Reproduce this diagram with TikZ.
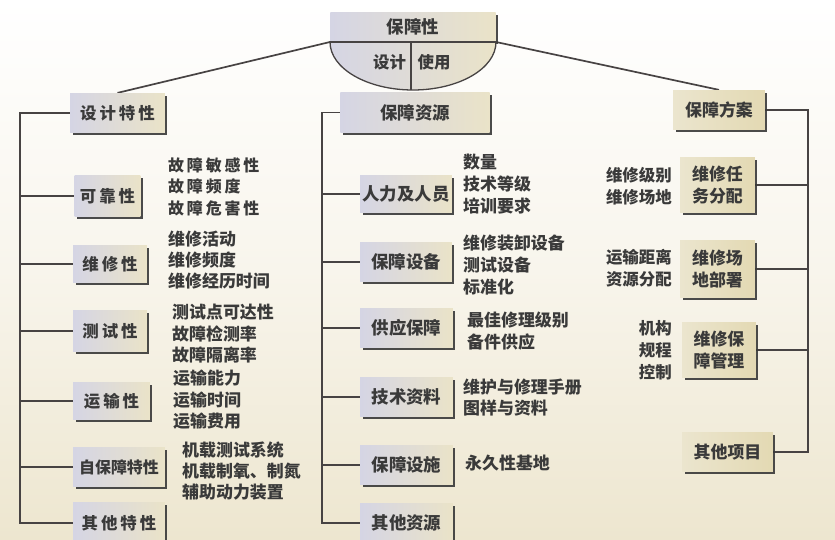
\documentclass[tikz,border=0pt]{standalone}
\usepackage{fontspec}
\newfontfamily\cjk{Noto Sans CJK SC}
\newfontfamily\cjkw{Noto Sans CJK SC}[LetterSpace=18]
\usetikzlibrary{shadows}
\definecolor{bgB}{HTML}{EDE6CF}
\definecolor{bgM}{HTML}{F8F5EC}
\definecolor{lav}{HTML}{D5D5E4}
\definecolor{crm}{HTML}{EAE3C8}
\definecolor{tan}{HTML}{E3D9B3}
\definecolor{tanL}{HTML}{EBE5CE}
\definecolor{txt}{HTML}{3A3A3A}
\definecolor{ln}{HTML}{474343}
\pgfdeclarelayer{bg}
\pgfsetlayers{bg,main}
\tikzset{
 boxbase/.style={inner sep=0pt, text=txt, drop shadow={shadow xshift=2.5bp, shadow yshift=-2.5bp, fill=black!78, opacity=0.9}},
 lbox/.style={boxbase, left color=lav, right color=crm, font=\cjkw\bfseries\fontsize{16.5}{20}\selectfont},
 mbox/.style={boxbase, left color=lav, right color=crm, font=\cjk\bfseries\fontsize{17.5}{20}\selectfont},
 rbox/.style={boxbase, left color=tanL, right color=tan, align=center, font=\cjk\bfseries\fontsize{17}{23}\selectfont},
 ltxt/.style={anchor=west, align=left, inner sep=0pt, text=txt, font=\cjk\bfseries\fontsize{17}{21.5}\selectfont},
 ltxtw/.style={ltxt, font=\cjkw\bfseries\fontsize{16}{21.5}\selectfont},
 mtxt/.style={anchor=west, align=left, inner sep=0pt, text=txt, font=\cjk\bfseries\fontsize{17}{22}\selectfont},
 rtxt/.style={anchor=east, align=right, inner sep=0pt, text=txt, font=\cjk\bfseries\fontsize{16.5}{22}\selectfont},
 conn/.style={draw=ln, line width=1.7bp},
}
\begin{document}
\begin{tikzpicture}[x=1bp,y=-1bp]
\useasboundingbox (0,0) rectangle (835,540);
\begin{pgfonlayer}{bg}
\fill[top color=white, bottom color=bgB, middle color=bgM] (0,0) rectangle (835,540);
\end{pgfonlayer}

% top
\node[mbox, minimum width=166, minimum height=30] (top) at (413,27) {保障性};
\begin{scope}
\clip (320,42) rectangle (506,100);
\path[left color=lav, right color=crm, draw=ln, line width=1.3bp] (413,42) ellipse [x radius=83, y radius=48];
\end{scope}
\coordinate (el) at (330,42);
\coordinate (er) at (496,42);
\coordinate (dv) at (411,42);
\coordinate (db) at (411,90);
\draw[conn] (el) -- (er);
\draw[conn] (dv) -- (db);
\node[text=txt, font=\cjk\bfseries\fontsize{16.5}{20}\selectfont] (sj) at (389.5,62) {设计};
\node[text=txt, font=\cjk\bfseries\fontsize{16.5}{20}\selectfont] (sy) at (434,62) {使用};

% left column
\node[lbox, minimum width=95, minimum height=40] (dtx) at (117.5,113) {设计特性};
\node[lbox, minimum width=66, minimum height=42] (kk) at (107.5,196) {可靠性};
\node[lbox, minimum width=74, minimum height=38] (wx) at (110,264) {维修性};
\node[lbox, minimum width=74, minimum height=42] (cs) at (110,331) {测试性};
\node[lbox, minimum width=77, minimum height=38] (ys) at (111.5,401) {运输性};
\node[mbox, minimum width=92, minimum height=40, font=\cjk\bfseries\fontsize{16}{20}\selectfont] (zb) at (119,467) {自保障特性};
\node[lbox, minimum width=92, minimum height=42] (qt) at (119,523) {其他特性};

\node[ltxtw] (kkT) at (168,186.5) {故障敏感性\\故障频度\\故障危害性};
\node[ltxt] (wxT) at (168,260) {维修活动\\维修频度\\维修经历时间};
\node[ltxt] (csT) at (172,334) {测试点可达性\\故障检测率\\故障隔离率};
\node[ltxt] (ysT) at (173,400) {运输能力\\运输时间\\运输费用};
\node[ltxt] (zbT) at (182,471) {机载测试系统\\机载制氧、制氮\\辅助动力装置};

% middle column
\node[mbox, minimum width=150, minimum height=41] (zy) at (415,112.5) {保障资源};
\node[mbox, minimum width=92, minimum height=38] (rl) at (406,194) {人力及人员};
\node[mbox, minimum width=92, minimum height=40] (sb) at (406,262) {保障设备};
\node[mbox, minimum width=93, minimum height=40] (gy) at (406.5,328) {供应保障};
\node[mbox, minimum width=93, minimum height=40] (js) at (406.5,397) {技术资料};
\node[mbox, minimum width=93, minimum height=40] (ss) at (406.5,465) {保障设施};
\node[mbox, minimum width=93, minimum height=40] (qz) at (406.5,523) {其他资源};

\node[mtxt] (rlT) at (463,184) {数量\\技术等级\\培训要求};
\node[mtxt] (sbT) at (463,265) {维修装卸设备\\测试设备\\标准化};
\node[mtxt] (gyT) at (467,331.5) {最佳修理级别\\备件供应};
\node[mtxt] (jsT) at (463,397.5) {维护与修理手册\\图样与资料};
\node[mtxt] (ssT) at (465,463) {永久性基地};

% right column
\node[rbox, minimum width=92, minimum height=40] (fa) at (719,110) {保障方案};
\node[rbox, minimum width=75, minimum height=56] (rw) at (717.5,185) {维修任\\务分配};
\node[rbox, minimum width=75, minimum height=58] (bs) at (717.5,269) {维修场\\地部署};
\node[rbox, minimum width=74, minimum height=56] (gl) at (719,350) {维修保\\障管理};
\node[rbox, minimum width=91, minimum height=40] (qx) at (727.5,452) {其他项目};

\node[rtxt] (rwT) at (672,186) {维修级别\\维修场地};
\node[rtxt] (bsT) at (672,268) {运输距离\\资源分配};
\node[rtxt] (glT) at (672,350) {机构\\规程\\控制};

% connectors
\coordinate (lt) at (20,113);
\coordinate (mt) at (322,112);
\coordinate (rt) at (808,110);
\begin{pgfonlayer}{bg}
\draw[conn] (el) -- (dtx.north);
\draw[conn] (er) -- (fa.north);
\draw[conn, line join=miter] (dtx.west) -- (lt) -- (lt |- qt.west) -- (qt.west);
\foreach \n in {kk,wx,cs,ys,zb} \draw[conn] (\n.west) -- (lt |- \n.west);
\draw[conn, line join=miter] (zy.west) -- (mt |- zy.west) -- (mt |- qz.west) -- (qz.west);
\foreach \n in {rl,sb,gy,js,ss} \draw[conn] (\n.west) -- (mt |- \n.west);
\draw[conn, line join=miter] (fa.east) -- (rt |- fa.east) -- (rt |- qx.east) -- (qx.east);
\foreach \n in {rw,bs,gl} \draw[conn] (\n.east) -- (rt |- \n.east);
\end{pgfonlayer}
\end{tikzpicture}
\end{document}
